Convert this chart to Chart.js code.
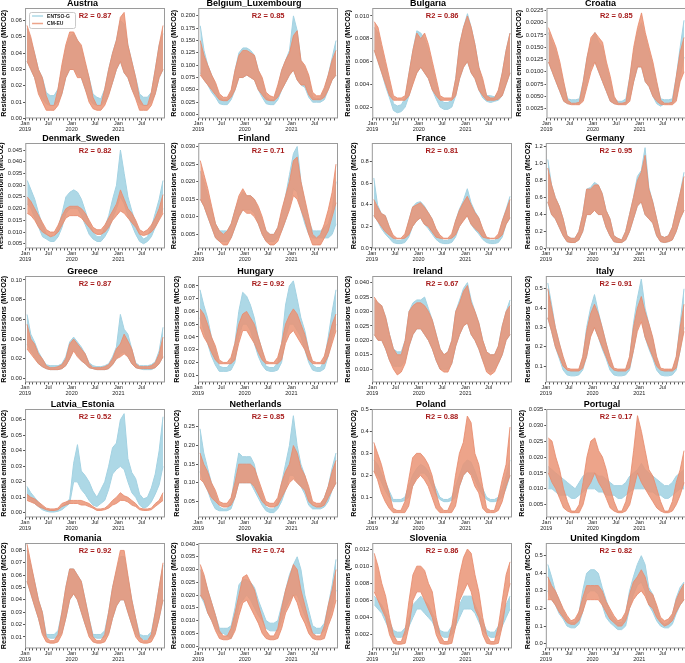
<!DOCTYPE html>
<html>
<head>
<meta charset="utf-8">
<script src="https://cdn.jsdelivr.net/npm/chart.js@4.4.0/dist/chart.umd.min.js"></script>
<style>
  html, body { margin: 0; padding: 0; background: #fff; }
  #page { position: relative; width: 685px; height: 663px; overflow: hidden; }
  #page canvas { position: absolute; }
</style>
</head>
<body>
<div id="page"></div>
<script>
// Monthly low / high of the daily series, Jan 2019 .. Dec 2021
const austriaCmLo = [.035,.03,.025,.015,.01,.005,.005,.005,.008,.015,.025,.03, .03,.025,.025,.018,.01,.006,.005,.005,.008,.014,.022,.03, .035,.028,.025,.018,.012,.005,.005,.005,.008,.015,.025,.03];
const austriaCmHi = [.057,.05,.04,.03,.025,.014,.008,.008,.018,.033,.045,.053, .053,.048,.045,.035,.025,.013,.008,.008,.018,.03,.04,.048, .062,.065,.045,.035,.025,.012,.008,.008,.016,.03,.045,.057];
const austriaEnLo = [.035,.03,.025,.017,.012,.009,.008,.008,.01,.015,.025,.03, .03,.027,.025,.018,.012,.009,.008,.008,.01,.015,.022,.03, .035,.028,.025,.018,.013,.009,.008,.008,.01,.015,.025,.03];
const austriaEnHi = [.055,.048,.04,.03,.025,.016,.014,.014,.018,.03,.043,.05, .052,.048,.043,.033,.025,.015,.013,.012,.018,.03,.04,.048, .06,.058,.045,.035,.025,.015,.013,.013,.016,.03,.045,.052];

const belgiumCmLo = [.08,.07,.06,.05,.04,.03,.028,.028,.035,.05,.075,.075, .08,.075,.07,.05,.04,.03,.028,.028,.035,.05,.065,.08, .09,.07,.06,.06,.04,.03,.03,.03,.035,.05,.07,.08];
const belgiumCmHi = [.15,.12,.1,.08,.065,.042,.035,.035,.05,.09,.12,.13, .13,.125,.12,.09,.075,.045,.038,.035,.06,.09,.11,.125, .16,.17,.11,.1,.08,.045,.038,.038,.055,.08,.11,.13];
const belgiumEnLo = [.085,.07,.06,.045,.035,.022,.02,.02,.03,.05,.075,.075, .08,.075,.07,.05,.035,.022,.02,.02,.03,.05,.065,.08, .09,.07,.06,.055,.035,.025,.025,.025,.03,.05,.07,.08];
const belgiumEnHi = [.18,.13,.1,.08,.06,.035,.03,.03,.045,.09,.125,.135, .135,.13,.12,.09,.07,.035,.03,.03,.055,.09,.11,.13, .2,.17,.11,.095,.075,.035,.032,.033,.05,.08,.115,.15];

const bulgariaCmLo = [.007,.006,.005,.004,.003,.0026,.0026,.0026,.0026,.003,.004,.005, .0055,.005,.0045,.0035,.003,.0026,.0026,.0026,.0026,.003,.0045,.0055, .006,.005,.0045,.0035,.003,.0026,.0026,.0026,.0027,.003,.004,.005];
const bulgariaCmHi = [.0095,.009,.0075,.006,.0045,.003,.0028,.0028,.003,.005,.007,.0085, .008,.0085,.0075,.006,.0045,.003,.0028,.0028,.0028,.0045,.0075,.009, .01,.009,.0075,.0055,.0045,.003,.0028,.0028,.0035,.005,.007,.0085];
const bulgariaEnLo = [.007,.006,.005,.0038,.0028,.0017,.0015,.0016,.002,.003,.0042,.005, .0055,.005,.0045,.0035,.0027,.002,.0018,.0018,.002,.003,.0045,.0055, .006,.005,.0045,.0035,.0028,.0025,.0024,.0025,.0026,.003,.004,.005];
const bulgariaEnHi = [.009,.0085,.007,.0055,.004,.0023,.0021,.0022,.0028,.005,.007,.0087, .0085,.008,.007,.0055,.004,.0027,.0024,.0024,.0026,.0045,.0075,.009, .0102,.009,.0075,.0055,.0042,.003,.003,.0029,.0033,.005,.007,.0085];

const croatiaCmLo = [.012,.01,.008,.006,.004,.0035,.0033,.0033,.0033,.004,.007,.01, .012,.01,.008,.006,.004,.0035,.0033,.0033,.0033,.004,.008,.011, .011,.008,.007,.005,.004,.0034,.0033,.0033,.0033,.004,.008,.01];
const croatiaCmHi = [.019,.017,.015,.012,.008,.0042,.0036,.0036,.0038,.008,.013,.017, .018,.017,.016,.012,.009,.005,.0036,.0036,.0038,.009,.015,.019, .022,.018,.015,.012,.008,.0042,.0036,.0036,.0038,.009,.014,.017];
const croatiaEnLo = [.012,.01,.008,.006,.004,.0035,.0035,.0035,.0035,.0045,.008,.011, .012,.01,.008,.006,.004,.0035,.0034,.0034,.0035,.0045,.008,.011, .011,.008,.007,.005,.0035,.003,.0035,.0035,.0035,.0045,.009,.013];
const croatiaEnHi = [.018,.016,.014,.011,.0075,.0045,.0043,.0043,.0045,.008,.013,.016, .018,.016,.015,.011,.008,.0045,.004,.004,.0045,.009,.014,.018, .02,.017,.014,.011,.0075,.0045,.0043,.0043,.0045,.009,.015,.0205];

const denmarkCmLo = [.018,.017,.015,.012,.01,.009,.008,.0085,.01,.013,.016,.017, .017,.017,.016,.014,.012,.01,.009,.009,.01,.012,.015,.017, .019,.018,.016,.014,.012,.009,.0085,.009,.01,.012,.015,.018];
const denmarkCmHi = [.025,.023,.02,.017,.014,.011,.01,.01,.013,.017,.02,.021, .021,.021,.02,.018,.015,.012,.011,.011,.013,.016,.019,.022, .028,.024,.02,.018,.015,.011,.01,.011,.013,.016,.02,.026];
const denmarkEnLo = [.022,.02,.016,.012,.008,.007,.006,.006,.008,.012,.018,.02, .02,.02,.017,.013,.009,.007,.006,.006,.008,.011,.016,.02, .025,.022,.017,.013,.009,.006,.005,.006,.008,.012,.016,.02];
const denmarkEnHi = [.032,.028,.024,.018,.013,.009,.008,.008,.012,.018,.025,.027, .028,.027,.024,.019,.014,.01,.008,.008,.012,.017,.024,.03, .045,.035,.025,.019,.014,.009,.007,.008,.012,.018,.024,.032];

const finlandCmLo = [.015,.013,.01,.007,.004,.003,.002,.002,.004,.007,.01,.012, .011,.011,.01,.008,.005,.003,.002,.002,.003,.006,.009,.012, .016,.015,.012,.009,.005,.002,.002,.002,.004,.006,.01,.014];
const finlandCmHi = [.026,.022,.018,.013,.008,.006,.005,.006,.008,.012,.016,.018, .016,.016,.015,.013,.01,.006,.005,.005,.007,.012,.016,.02, .026,.027,.02,.015,.01,.005,.004,.005,.008,.012,.017,.025];
const finlandEnLo = [.015,.013,.01,.007,.004,.003,.003,.003,.004,.007,.01,.012, .012,.012,.011,.008,.005,.003,.003,.003,.004,.006,.009,.013, .018,.017,.012,.008,.005,.004,.004,.004,.004,.004,.005,.008];
const finlandEnHi = [.023,.02,.016,.012,.008,.006,.006,.006,.008,.012,.015,.017, .016,.016,.015,.012,.009,.006,.005,.005,.007,.011,.016,.022, .028,.03,.02,.014,.009,.006,.006,.006,.007,.008,.012,.02];

const franceCmLo = [.3,.25,.2,.15,.12,.09,.085,.085,.09,.12,.2,.25, .28,.22,.2,.15,.1,.09,.085,.085,.09,.12,.2,.25, .3,.22,.18,.15,.1,.09,.085,.085,.09,.12,.22,.28];
const franceCmHi = [.45,.38,.32,.3,.2,.12,.09,.09,.13,.25,.38,.4, .42,.38,.33,.27,.18,.12,.09,.09,.13,.25,.35,.42, .48,.4,.33,.28,.18,.1,.09,.09,.13,.25,.35,.45];
const franceEnLo = [.3,.25,.18,.13,.09,.05,.04,.04,.05,.1,.2,.25, .28,.22,.18,.13,.08,.05,.04,.04,.05,.1,.2,.26, .3,.22,.17,.13,.08,.05,.04,.04,.05,.1,.22,.28];
const franceEnHi = [.65,.4,.32,.3,.2,.09,.07,.07,.1,.25,.38,.42, .43,.39,.33,.27,.17,.09,.07,.07,.1,.25,.36,.44, .55,.42,.34,.28,.17,.09,.07,.07,.1,.25,.36,.48];

const germanyCmLo = [.55,.4,.35,.25,.15,.08,.07,.07,.1,.2,.4,.4, .45,.4,.4,.25,.15,.08,.07,.07,.1,.2,.35,.5, .55,.4,.35,.3,.15,.08,.07,.08,.1,.2,.35,.45];
const germanyCmHi = [.95,.75,.6,.5,.35,.15,.12,.12,.2,.4,.7,.7, .75,.75,.65,.45,.35,.15,.12,.1,.2,.4,.6,.8, .9,1.1,.7,.55,.35,.15,.13,.15,.25,.45,.65,.85];
const germanyEnLo = [.55,.4,.35,.25,.15,.08,.07,.07,.1,.2,.4,.4, .45,.4,.4,.25,.15,.08,.07,.07,.1,.2,.35,.5, .55,.4,.35,.3,.15,.08,.07,.08,.1,.2,.35,.45];
const germanyEnHi = [1.05,.75,.6,.5,.35,.15,.12,.12,.2,.4,.7,.72, .78,.75,.65,.45,.35,.15,.12,.1,.2,.4,.6,.85, .92,1.19,.72,.55,.35,.15,.13,.15,.25,.45,.65,.9];

const greeceCmLo = [.03,.025,.02,.015,.012,.01,.009,.009,.009,.01,.013,.02, .028,.022,.018,.015,.011,.01,.009,.009,.009,.01,.014,.02, .022,.025,.022,.015,.011,.01,.01,.01,.01,.011,.015,.022];
const greeceCmHi = [.055,.04,.035,.025,.02,.013,.011,.011,.012,.014,.02,.035, .04,.035,.03,.025,.015,.011,.011,.011,.012,.014,.02,.03, .035,.045,.038,.03,.015,.012,.012,.012,.013,.016,.025,.042];
const greeceEnLo = [.035,.028,.022,.015,.012,.01,.009,.009,.009,.01,.013,.02, .03,.024,.018,.015,.011,.01,.009,.009,.009,.01,.014,.02, .025,.027,.022,.015,.011,.01,.009,.009,.009,.011,.015,.022];
const greeceEnHi = [.065,.045,.037,.027,.02,.014,.013,.013,.013,.015,.022,.037, .042,.037,.032,.025,.016,.013,.012,.012,.013,.015,.022,.032, .065,.05,.045,.03,.016,.013,.013,.013,.014,.017,.028,.052];

const hungaryCmLo = [.048,.04,.035,.028,.022,.019,.019,.019,.019,.022,.035,.045, .045,.04,.035,.028,.022,.019,.019,.019,.019,.022,.035,.042, .045,.04,.035,.03,.022,.019,.019,.019,.019,.025,.035,.045];
const hungaryCmHi = [.062,.058,.05,.04,.033,.022,.02,.02,.024,.035,.05,.058, .06,.055,.05,.04,.03,.021,.02,.02,.024,.035,.05,.057, .062,.058,.05,.042,.03,.021,.02,.02,.025,.037,.05,.058];
const hungaryEnLo = [.055,.045,.035,.025,.018,.013,.013,.013,.014,.02,.04,.05, .05,.045,.035,.025,.018,.014,.013,.013,.014,.02,.04,.05, .05,.045,.04,.03,.02,.014,.013,.013,.015,.025,.04,.05];
const hungaryEnHi = [.077,.065,.055,.04,.03,.017,.016,.016,.02,.035,.06,.075, .072,.065,.055,.04,.03,.017,.016,.016,.02,.035,.065,.08, .084,.07,.055,.045,.03,.018,.016,.016,.022,.04,.06,.077];

const irelandCmLo = [.022,.02,.02,.017,.013,.01,.008,.009,.012,.018,.022,.024, .024,.022,.02,.017,.013,.01,.009,.009,.012,.018,.022,.025, .026,.022,.02,.017,.013,.009,.008,.009,.012,.015,.02,.022];
const irelandCmHi = [.035,.033,.032,.028,.022,.017,.015,.015,.02,.03,.032,.033, .033,.032,.03,.027,.022,.017,.015,.016,.02,.03,.033,.037, .039,.033,.03,.026,.02,.016,.015,.015,.018,.025,.03,.032];
const irelandEnLo = [.022,.02,.02,.017,.013,.011,.011,.011,.013,.018,.022,.024, .024,.022,.02,.017,.013,.01,.01,.01,.012,.018,.022,.025, .026,.022,.02,.017,.013,.01,.009,.01,.012,.015,.02,.022];
const irelandEnHi = [.034,.033,.032,.028,.022,.017,.016,.016,.02,.03,.033,.034, .034,.035,.031,.027,.022,.017,.015,.016,.02,.03,.034,.038, .04,.034,.03,.026,.02,.016,.015,.015,.018,.025,.03,.034];

const italyCmLo = [.35,.28,.2,.15,.1,.08,.075,.075,.075,.09,.15,.25, .3,.25,.2,.15,.1,.08,.075,.075,.075,.09,.18,.28, .33,.25,.2,.15,.1,.08,.075,.075,.075,.09,.18,.28];
const italyCmHi = [.5,.4,.3,.22,.15,.09,.085,.085,.085,.15,.28,.37, .42,.37,.3,.22,.15,.09,.085,.085,.085,.15,.3,.4, .46,.38,.32,.25,.15,.09,.085,.085,.085,.15,.3,.42];
const italyEnLo = [.35,.28,.2,.14,.08,.055,.05,.05,.055,.08,.15,.26, .3,.25,.19,.14,.08,.055,.05,.05,.055,.08,.18,.3, .35,.25,.19,.14,.08,.055,.05,.05,.055,.08,.18,.3];
const italyEnHi = [.53,.42,.3,.22,.14,.08,.075,.075,.08,.14,.3,.4, .47,.38,.3,.22,.14,.08,.075,.075,.08,.14,.32,.45, .55,.4,.32,.24,.14,.08,.075,.075,.08,.14,.32,.5];

const latviaCmLo = [.008,.007,.006,.004,.003,.002,.0015,.0015,.002,.004,.005,.006, .006,.006,.005,.005,.004,.003,.0015,.0015,.002,.003,.005,.006, .008,.008,.007,.005,.004,.002,.0015,.0015,.002,.004,.006,.008];
const latviaCmHi = [.012,.01,.009,.007,.005,.003,.0025,.0025,.003,.006,.007,.008, .008,.008,.008,.007,.006,.004,.0025,.0025,.003,.005,.008,.01, .013,.011,.01,.008,.006,.003,.0025,.0025,.003,.006,.008,.013];
const latviaEnLo = [.01,.008,.006,.004,.002,.001,.0005,.0005,.001,.002,.004,.006, .02,.02,.015,.012,.008,.005,.004,.006,.008,.015,.025,.028, .03,.028,.02,.013,.01,.005,.003,.004,.007,.012,.018,.03];
const latviaEnHi = [.017,.013,.01,.007,.004,.002,.0015,.0015,.002,.004,.006,.009, .032,.044,.027,.024,.02,.014,.01,.015,.02,.03,.042,.045, .06,.064,.035,.026,.022,.012,.009,.01,.016,.025,.04,.062];

const netherlandsCmLo = [.11,.1,.08,.06,.05,.04,.035,.035,.04,.06,.1,.1, .1,.1,.09,.07,.05,.04,.035,.035,.04,.06,.08,.1, .11,.1,.09,.08,.05,.04,.035,.035,.04,.06,.08,.1];
const netherlandsCmHi = [.18,.15,.13,.1,.08,.05,.045,.045,.06,.1,.15,.15, .15,.15,.14,.11,.08,.05,.045,.045,.06,.1,.13,.15, .2,.18,.14,.12,.09,.05,.045,.045,.06,.09,.13,.16];
const netherlandsEnLo = [.13,.1,.08,.05,.03,.025,.025,.025,.03,.06,.1,.1, .1,.1,.08,.06,.04,.025,.02,.02,.03,.05,.08,.12, .12,.1,.09,.07,.04,.03,.03,.03,.035,.05,.08,.1];
const netherlandsEnHi = [.245,.18,.14,.1,.07,.035,.03,.03,.05,.12,.18,.17, .17,.17,.15,.1,.07,.035,.03,.03,.05,.1,.15,.2, .28,.2,.15,.12,.08,.04,.035,.04,.06,.09,.14,.18];

const polandCmLo = [.22,.18,.12,.08,.05,.03,.03,.03,.03,.06,.15,.18, .2,.18,.15,.1,.05,.03,.03,.03,.03,.06,.15,.2, .22,.2,.15,.12,.05,.03,.03,.03,.04,.08,.15,.2];
const polandCmHi = [.35,.3,.25,.18,.12,.05,.04,.04,.08,.18,.28,.3, .3,.28,.25,.2,.12,.06,.04,.04,.08,.2,.3,.35, .47,.44,.3,.25,.15,.05,.04,.04,.1,.18,.25,.42];
const polandEnLo = [.22,.2,.17,.13,.1,.08,.08,.08,.085,.1,.15,.19, .21,.21,.19,.15,.11,.09,.08,.08,.085,.1,.15,.2, .22,.21,.18,.14,.11,.09,.08,.08,.085,.1,.14,.2];
const polandEnHi = [.27,.25,.21,.17,.13,.09,.09,.09,.1,.15,.2,.23, .25,.24,.22,.18,.14,.1,.09,.09,.1,.15,.2,.25, .27,.26,.22,.17,.14,.1,.09,.09,.1,.14,.2,.27];

const portugalCmLo = [.015,.012,.01,.007,.004,.003,.0025,.0025,.0025,.005,.01,.012, .015,.012,.01,.007,.004,.003,.0025,.0025,.003,.005,.01,.015, .012,.01,.008,.006,.004,.003,.0025,.0025,.003,.005,.008,.012];
const portugalCmHi = [.026,.025,.02,.016,.01,.006,.003,.003,.005,.012,.02,.025, .026,.022,.02,.016,.01,.006,.003,.003,.006,.012,.022,.033, .028,.022,.016,.014,.01,.006,.003,.003,.006,.012,.016,.022];
const portugalEnLo = [.01,.01,.009,.008,.008,.008,.007,.007,.008,.009,.01,.01, .01,.009,.009,.008,.008,.008,.007,.007,.008,.009,.01,.01, .01,.01,.009,.009,.008,.008,.007,.007,.008,.009,.01,.01];
const portugalEnHi = [.017,.016,.015,.014,.013,.012,.011,.01,.012,.014,.015,.015, .015,.014,.014,.013,.012,.011,.011,.011,.012,.014,.015,.016, .018,.016,.015,.014,.013,.012,.011,.011,.012,.014,.015,.016];

const romaniaCmLo = [.055,.045,.035,.025,.012,.006,.005,.005,.006,.012,.025,.04, .045,.04,.03,.02,.01,.006,.005,.005,.006,.012,.025,.035, .04,.04,.03,.02,.01,.006,.005,.005,.006,.012,.025,.04];
const romaniaCmHi = [.085,.07,.055,.04,.03,.01,.007,.007,.012,.03,.05,.065, .065,.06,.055,.04,.025,.01,.007,.007,.012,.03,.05,.065, .08,.08,.06,.04,.025,.01,.007,.007,.012,.03,.05,.07];
const romaniaEnLo = [.055,.045,.035,.025,.013,.01,.009,.009,.01,.013,.025,.04, .045,.04,.03,.02,.012,.01,.009,.009,.01,.013,.025,.035, .04,.04,.03,.02,.012,.009,.008,.008,.009,.013,.025,.04];
const romaniaEnHi = [.08,.068,.055,.04,.03,.012,.012,.012,.015,.03,.05,.065, .065,.06,.055,.04,.025,.012,.012,.012,.015,.03,.05,.063, .075,.075,.058,.04,.025,.012,.011,.011,.014,.03,.05,.068];

const slovakiaCmLo = [.02,.018,.013,.01,.006,.003,.0025,.0025,.003,.006,.012,.017, .018,.015,.012,.009,.005,.003,.0025,.0025,.003,.007,.013,.016, .02,.017,.012,.009,.005,.003,.0025,.0025,.003,.008,.012,.018];
const slovakiaCmHi = [.032,.028,.022,.017,.012,.006,.004,.004,.007,.013,.02,.027, .028,.025,.022,.016,.011,.006,.004,.004,.007,.015,.022,.027, .032,.03,.022,.016,.01,.005,.004,.004,.008,.016,.022,.03];
const slovakiaEnLo = [.02,.017,.013,.01,.007,.005,.005,.004,.003,.008,.016,.018, .02,.018,.015,.012,.01,.007,.006,.006,.006,.01,.015,.018, .02,.02,.016,.012,.008,.005,.005,.005,.006,.01,.015,.022];
const slovakiaEnHi = [.03,.027,.022,.017,.012,.007,.007,.007,.008,.015,.024,.026, .026,.025,.023,.018,.014,.01,.009,.009,.01,.016,.022,.028, .032,.035,.03,.02,.014,.008,.007,.007,.009,.016,.024,.034];

const sloveniaCmLo = [.007,.006,.005,.004,.002,.001,.0009,.0009,.001,.003,.006,.007, .007,.006,.005,.004,.002,.001,.0009,.0009,.001,.003,.006,.007, .008,.007,.005,.004,.002,.001,.0009,.0009,.001,.003,.006,.008];
const sloveniaCmHi = [.0115,.01,.008,.0065,.004,.002,.0012,.0012,.0025,.006,.009,.01, .01,.0095,.008,.007,.004,.002,.0012,.0012,.003,.006,.009,.011, .012,.0115,.009,.007,.004,.002,.0012,.0012,.003,.006,.009,.0105];
const sloveniaEnLo = [.0055,.005,.0045,.0035,.0025,.0018,.0017,.0017,.002,.003,.004,.005, .005,.0045,.004,.0035,.0025,.002,.0017,.0017,.002,.003,.004,.005, .005,.005,.0045,.0035,.0025,.002,.0017,.0017,.002,.003,.004,.005];
const sloveniaEnHi = [.0065,.006,.0055,.0045,.0035,.0025,.0023,.0023,.0028,.004,.0055,.006, .0065,.006,.0055,.0045,.0035,.0025,.0023,.0023,.003,.004,.0055,.0065, .0065,.0065,.0055,.0045,.0035,.0025,.0023,.0023,.003,.004,.0055,.0065];

const ukCmLo = [.25,.25,.22,.18,.15,.12,.11,.11,.13,.18,.25,.25, .25,.25,.22,.18,.14,.12,.1,.1,.13,.2,.25,.28, .3,.27,.22,.2,.15,.12,.1,.11,.13,.18,.22,.25];
const ukCmHi = [.38,.33,.3,.25,.2,.16,.13,.14,.18,.26,.33,.33, .33,.33,.3,.24,.2,.16,.13,.14,.18,.28,.35,.38, .42,.38,.3,.28,.22,.15,.13,.14,.17,.25,.3,.34];
const ukEnLo = [.3,.25,.22,.17,.14,.1,.09,.09,.11,.18,.28,.3, .3,.28,.22,.15,.12,.1,.08,.08,.1,.2,.28,.33, .35,.3,.22,.18,.13,.1,.09,.09,.11,.17,.22,.25];
const ukEnHi = [.45,.38,.3,.25,.19,.14,.12,.12,.17,.3,.4,.42, .42,.4,.32,.25,.18,.14,.12,.12,.17,.3,.38,.45, .5,.45,.32,.28,.2,.13,.11,.12,.16,.26,.32,.35];

const countries = ['Austria', 'Belgium_Luxembourg', 'Bulgaria', 'Croatia', 'Denmark_Sweden', 'Finland',
  'France', 'Germany', 'Greece', 'Hungary', 'Ireland', 'Italy', 'Latvia_Estonia', 'Netherlands',
  'Poland', 'Portugal', 'Romania', 'Slovakia', 'Slovenia', 'United Kingdom'];
const r2Values = [0.87, 0.85, 0.86, 0.85, 0.82, 0.71, 0.81, 0.95, 0.87, 0.92, 0.67, 0.91, 0.52, 0.85, 0.88, 0.17, 0.92, 0.74, 0.86, 0.82];
const yRanges = [[0, 0.0677], [-0.008, 0.216], [0.001, 0.0107], [0.0005, 0.023], [0.003, 0.048],
  [0.001, 0.031], [-0.005, 0.975], [0, 1.245], [-0.004, 0.104], [0.0043, 0.0878],
  [0.0054, 0.0423], [0.016, 0.566], [-0.003, 0.067], [0.007, 0.298], [0.008, 0.502],
  [0.001, 0.0351], [0.0007, 0.086], [-0.0009, 0.0404], [0.0004, 0.0127], [-0.027, 0.572]];
const yTickSteps = [0.01, 0.025, 0.002, 0.0025, 0.005, 0.005, 0.2, 0.2, 0.02, 0.01, 0.005, 0.1, 0.01, 0.05, 0.1, 0.005, 0.01, 0.005, 0.002, 0.1];
const yDecimals = [2, 3, 3, 4, 3, 3, 1, 1, 2, 2, 3, 1, 2, 2, 1, 3, 2, 3, 3, 1];
const seriesNames = ['ENTSO-G', 'CM-EU'];

const seriesTable = [
  [austriaCmLo, austriaCmHi, austriaEnLo, austriaEnHi],
  [belgiumCmLo, belgiumCmHi, belgiumEnLo, belgiumEnHi],
  [bulgariaCmLo, bulgariaCmHi, bulgariaEnLo, bulgariaEnHi],
  [croatiaCmLo, croatiaCmHi, croatiaEnLo, croatiaEnHi],
  [denmarkCmLo, denmarkCmHi, denmarkEnLo, denmarkEnHi],
  [finlandCmLo, finlandCmHi, finlandEnLo, finlandEnHi],
  [franceCmLo, franceCmHi, franceEnLo, franceEnHi],
  [germanyCmLo, germanyCmHi, germanyEnLo, germanyEnHi],
  [greeceCmLo, greeceCmHi, greeceEnLo, greeceEnHi],
  [hungaryCmLo, hungaryCmHi, hungaryEnLo, hungaryEnHi],
  [irelandCmLo, irelandCmHi, irelandEnLo, irelandEnHi],
  [italyCmLo, italyCmHi, italyEnLo, italyEnHi],
  [latviaCmLo, latviaCmHi, latviaEnLo, latviaEnHi],
  [netherlandsCmLo, netherlandsCmHi, netherlandsEnLo, netherlandsEnHi],
  [polandCmLo, polandCmHi, polandEnLo, polandEnHi],
  [portugalCmLo, portugalCmHi, portugalEnLo, portugalEnHi],
  [romaniaCmLo, romaniaCmHi, romaniaEnLo, romaniaEnHi],
  [slovakiaCmLo, slovakiaCmHi, slovakiaEnLo, slovakiaEnHi],
  [sloveniaCmLo, sloveniaCmHi, sloveniaEnLo, sloveniaEnHi],
  [ukCmLo, ukCmHi, ukEnLo, ukEnHi]
];

// layout of the 4 x 5 grid (plot areas, px)
const COL_LEFT = [25, 198, 372, 546];
const ROW_TOP = [8, 143, 276, 409, 543];
const ROW_BOTTOM = [118, 248, 382, 517, 648];
const PLOT_W = 140;

const FONT = '"Liberation Sans", Arial, Helvetica, sans-serif';
const BLUE_FILL = '#add8e6';
const BLUE_LINE = '#a3d2e2';
const SALMON_FILL = 'rgba(234,148,118,0.85)';
const SALMON_LINE = 'rgba(232,140,110,0.85)';

// day offsets from 1 Jan 2019 for month starts, plus mid-month positions
const DAY = 86400000;
const monthStart = [];
for (let m = 0; m <= 36; m++) monthStart.push((Date.UTC(2019, m, 1) - Date.UTC(2019, 0, 1)) / DAY);
const monthMid = monthStart.slice(0, 36).map((d, i) => (d + monthStart[i + 1]) / 2);
const TOTAL_DAYS = monthStart[36];

function yTickValues(k) {
  const step = yTickSteps[k];
  const [lo, hi] = yRanges[k];
  const out = [];
  for (let i = Math.ceil(lo / step - 1e-9); i <= Math.floor(hi / step + 1e-9); i++) {
    out.push(+(i * step).toFixed(6));
  }
  return out;
}

// box round the plot area + R2 text + legend for the first panel
const decorPlugin = {
  id: 'decor',
  afterDatasetsDraw(chart, args, opts) {
    const { ctx, chartArea: a } = chart;
    ctx.save();
    ctx.strokeStyle = '#9a9a9a';
    ctx.lineWidth = 1;
    ctx.strokeRect(a.left + 0.5, a.top + 0.5, a.right - a.left - 1, a.bottom - a.top - 1);

    ctx.fillStyle = '#a61b1b';
    ctx.font = 'bold 7.5px ' + FONT;
    ctx.textAlign = 'center';
    ctx.textBaseline = 'middle';
    ctx.fillText('R2 = ' + opts.r2.toFixed(2), (a.left + a.right) / 2, a.top + 8);

    if (opts.legend) {
      const x = a.left + 4, y = a.top + 4;
      ctx.fillStyle = 'rgba(255,255,255,0.85)';
      ctx.strokeStyle = '#c8c8c8';
      ctx.beginPath();
      ctx.roundRect(x + 0.5, y + 0.5, 46, 16, 2);
      ctx.fill();
      ctx.stroke();
      ctx.lineWidth = 1.5;
      ctx.strokeStyle = BLUE_FILL;
      ctx.beginPath(); ctx.moveTo(x + 3, y + 4); ctx.lineTo(x + 14, y + 4); ctx.stroke();
      ctx.strokeStyle = SALMON_FILL;
      ctx.beginPath(); ctx.moveTo(x + 3, y + 11.5); ctx.lineTo(x + 14, y + 11.5); ctx.stroke();
      ctx.fillStyle = '#222';
      ctx.font = 'bold 5px ' + FONT;
      ctx.textAlign = 'left';
      ctx.fillText(seriesNames[0], x + 18, y + 4.5);
      ctx.fillText(seriesNames[1], x + 18, y + 12);
    }
    ctx.restore();
  }
};

function makeChart(canvas, k) {
  const [cmLo, cmHi, enLo, enHi] = seriesTable[k];
  const pts = arr => arr.map((v, i) => ({ x: monthMid[i], y: v }));
  const line = (data, color, fill, bg) => ({
    data: pts(data), borderColor: color, borderWidth: 1, pointRadius: 0,
    tension: 0, fill: fill, backgroundColor: bg
  });
  const ticks = yTickValues(k);
  return new Chart(canvas, {
    type: 'line',
    data: {
      datasets: [
        line(cmLo, SALMON_LINE, false),
        line(cmHi, SALMON_LINE, '-1', SALMON_FILL),
        line(enLo, BLUE_LINE, false),
        line(enHi, BLUE_LINE, '-1', BLUE_FILL)
      ]
    },
    plugins: [decorPlugin],
    options: {
      responsive: false,
      animation: false,
      events: [],
      layout: { padding: { left: 0, right: 2, top: 0, bottom: 0 } },
      plugins: {
        legend: { display: false },
        tooltip: { enabled: false },
        title: {
          display: true, text: countries[k], color: '#000',
          font: { family: FONT, size: 9, weight: 'bold', lineHeight: 1.0 },
          padding: { top: 0, bottom: 0 }
        },
        decor: { r2: r2Values[k], legend: k === 0 }
      },
      scales: {
        x: {
          type: 'linear', min: 0, max: TOTAL_DAYS,
          afterBuildTicks: s => { s.ticks = monthStart.slice(0, 36).map(v => ({ value: v })); },
          ticks: {
            autoSkip: false, maxRotation: 0, minRotation: 0, padding: 0, color: '#222',
            font: { family: FONT, size: 5.5, lineHeight: 1.05 },
            callback: (v, i) => i % 12 === 0 ? ['Jan', String(2019 + i / 12)] : (i % 6 === 0 ? 'Jul' : '')
          },
          grid: { drawOnChartArea: false, tickLength: 2, color: '#555' },
          border: { display: false }
        },
        y: {
          min: yRanges[k][0], max: yRanges[k][1],
          afterBuildTicks: s => { s.ticks = ticks.map(v => ({ value: v })); },
          ticks: {
            autoSkip: false, padding: 1, color: '#222',
            font: { family: FONT, size: 5.8 },
            callback: v => v.toFixed(yDecimals[k])
          },
          grid: { drawOnChartArea: false, tickLength: 2, color: '#555' },
          border: { display: false },
          title: {
            display: true, text: 'Residential emissions (MtCO2)', color: '#000',
            font: { family: FONT, size: 7.3, weight: 'bold' },
            padding: { top: 0, bottom: 1 }
          }
        }
      }
    }
  });
}

const page = document.getElementById('page');
countries.forEach((name, k) => {
  const col = k % 4, row = Math.floor(k / 4);
  const plotH = ROW_BOTTOM[row] - ROW_TOP[row];

  // first pass: measure how much room the axes and title take
  const probe = document.createElement('canvas');
  probe.width = 220; probe.height = plotH + 60;
  page.appendChild(probe);
  const c0 = makeChart(probe, k);
  const padL = c0.chartArea.left, padT = c0.chartArea.top, padB = c0.height - c0.chartArea.bottom;
  c0.destroy();
  probe.remove();

  const cv = document.createElement('canvas');
  cv.width = Math.round(padL + PLOT_W + 2);
  cv.height = Math.round(padT + plotH + padB);
  cv.style.left = (COL_LEFT[col] - padL) + 'px';
  cv.style.top = (ROW_TOP[row] - padT) + 'px';
  page.appendChild(cv);
  makeChart(cv, k);
});
</script>
</body>
</html>
